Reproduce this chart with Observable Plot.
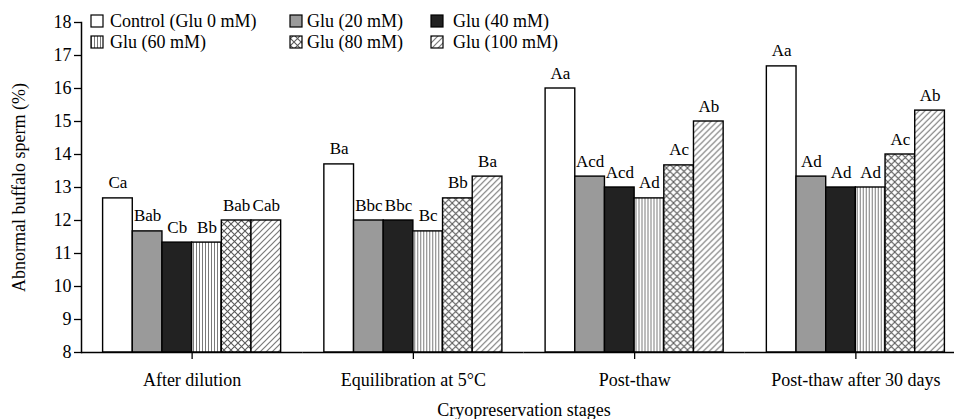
<!DOCTYPE html>
<html>
<head>
<meta charset="utf-8">
<script src="https://cdn.jsdelivr.net/npm/d3@7"></script>
<script src="https://cdn.jsdelivr.net/npm/@observablehq/plot@0.6"></script>
<style>
  html, body { margin: 0; padding: 0; background: white; }
  #chart { position: relative; width: 954px; height: 419px; }
</style>
</head>
<body>
<div id="chart"></div>
<script>
const stages = ["After dilution", "Equilibration at 5°C", "Post-thaw", "Post-thaw after 30 days"];
const treatments = ["Control (Glu 0 mM)", "Glu (20 mM)", "Glu (40 mM)", "Glu (60 mM)", "Glu (80 mM)", "Glu (100 mM)"];

const control = [12.67, 13.7, 16.0, 16.67];
const glu20   = [11.67, 12.0, 13.33, 13.33];
const glu40   = [11.33, 12.0, 13.0, 13.0];
const glu60   = [11.33, 11.67, 12.67, 13.0];
const glu80   = [12.0, 12.67, 13.67, 14.0];
const glu100  = [12.0, 13.33, 15.0, 15.33];

const lettersControl = ["Ca", "Ba", "Aa", "Aa"];
const letters20      = ["Bab", "Bbc", "Acd", "Ad"];
const letters40      = ["Cb", "Bbc", "Acd", "Ad"];
const letters60      = ["Bb", "Bc", "Ad", "Ad"];
const letters80      = ["Bab", "Bb", "Ac", "Ac"];
const letters100     = ["Cab", "Ba", "Ab", "Ab"];

const yTicks = [8, 9, 10, 11, 12, 13, 14, 15, 16, 17, 18];

const seriesValues = [control, glu20, glu40, glu60, glu80, glu100];
const seriesLetters = [lettersControl, letters20, letters40, letters60, letters80, letters100];
const fills = ["white", "#9a9a9a", "#222222", "url(#p60)", "url(#p80)", "url(#p100)"];

const data = [];
stages.forEach((stage, si) => {
  treatments.forEach((t, ti) => {
    data.push({stage, treatment: t, value: seriesValues[ti][si], letter: seriesLetters[ti][si]});
  });
});

const font = "'Liberation Serif', 'Times New Roman', serif";
const fs = 18;

const svg = Plot.plot({
  width: 954,
  height: 419,
  marginLeft: 81,
  marginRight: 0,
  marginTop: 22,
  marginBottom: 67,
  style: {fontFamily: font, fontSize: fs + "px", color: "black", background: "white", overflow: "visible"},
  fx: {domain: stages, range: [81, 966], padding: 0, round: false, label: null},
  x: {domain: treatments, paddingInner: 0, paddingOuter: 0.728, round: false, axis: null},
  y: {domain: [8, 18], axis: null},
  color: {domain: treatments, range: fills},
  marks: [
    Plot.barY(data, {fx: "stage", x: "treatment", y1: 8, y2: "value", fill: "treatment", stroke: "black", strokeWidth: 1.4, insetLeft: 0, insetRight: 0}),
    Plot.text(data, {fx: "stage", x: "treatment", y: "value", text: "letter", dy: -10, lineAnchor: "bottom", fontSize: 17, fill: "black"}),
    Plot.ruleY([8], {stroke: "black", strokeWidth: 1.5}),
    Plot.axisY({ticks: yTicks, tickSize: 7, tickPadding: 3, strokeWidth: 1.3, fontSize: fs,
      label: "Abnormal buffalo sperm (%)", labelAnchor: "center", labelArrow: "none", labelOffset: 69}),
    Plot.frame({anchor: "left", facetAnchor: "left", stroke: "black", strokeWidth: 1.5}),
    Plot.axisFx({anchor: "bottom", tickSize: 7, tickPadding: 14, strokeWidth: 1.3, fontSize: fs,
      label: "Cryopreservation stages", labelAnchor: "center", labelArrow: "none", labelOffset: 63})
  ]
});

// pattern definitions
const s = d3.select(svg);
const defs = s.insert("defs", ":first-child");
const p60 = defs.append("pattern").attr("id", "p60").attr("patternUnits", "userSpaceOnUse").attr("width", 3).attr("height", 10);
p60.append("rect").attr("width", 3).attr("height", 10).attr("fill", "white");
p60.append("line").attr("x1", 1.5).attr("x2", 1.5).attr("y1", 0).attr("y2", 10).attr("stroke", "#7a7a7a").attr("stroke-width", 1);
const p80 = defs.append("pattern").attr("id", "p80").attr("patternUnits", "userSpaceOnUse").attr("width", 7).attr("height", 7);
p80.append("rect").attr("width", 7).attr("height", 7).attr("fill", "white");
p80.append("path").attr("d", "M0,0L7,7M7,0L0,7").attr("stroke", "#5a5a5a").attr("stroke-width", 1.1);
const p100 = defs.append("pattern").attr("id", "p100").attr("patternUnits", "userSpaceOnUse").attr("width", 6).attr("height", 6);
p100.append("rect").attr("width", 6).attr("height", 6).attr("fill", "white");
p100.append("path").attr("d", "M0,6L6,0M-1,1L1,-1M5,7L7,5").attr("stroke", "#7a7a7a").attr("stroke-width", 1.2);

// legend
const swatchX = [91, 290, 431];
const textX = [110, 307, 453];
const rowY = [21, 42];
const leg = s.append("g").attr("font-family", font).attr("font-size", fs).attr("text-anchor", "start");
treatments.forEach((t, i) => {
  const col = i % 3, row = Math.floor(i / 3);
  leg.append("rect").attr("x", swatchX[col]).attr("y", rowY[row] - 6).attr("width", 12).attr("height", 12)
    .attr("fill", fills[i]).attr("stroke", "black").attr("stroke-width", 1.2);
  leg.append("text").attr("x", textX[col]).attr("y", rowY[row]).attr("dy", "0.35em").attr("fill", "black")
    .attr("text-anchor", "start").text(t);
});

document.getElementById("chart").appendChild(svg);
</script>
</body>
</html>
